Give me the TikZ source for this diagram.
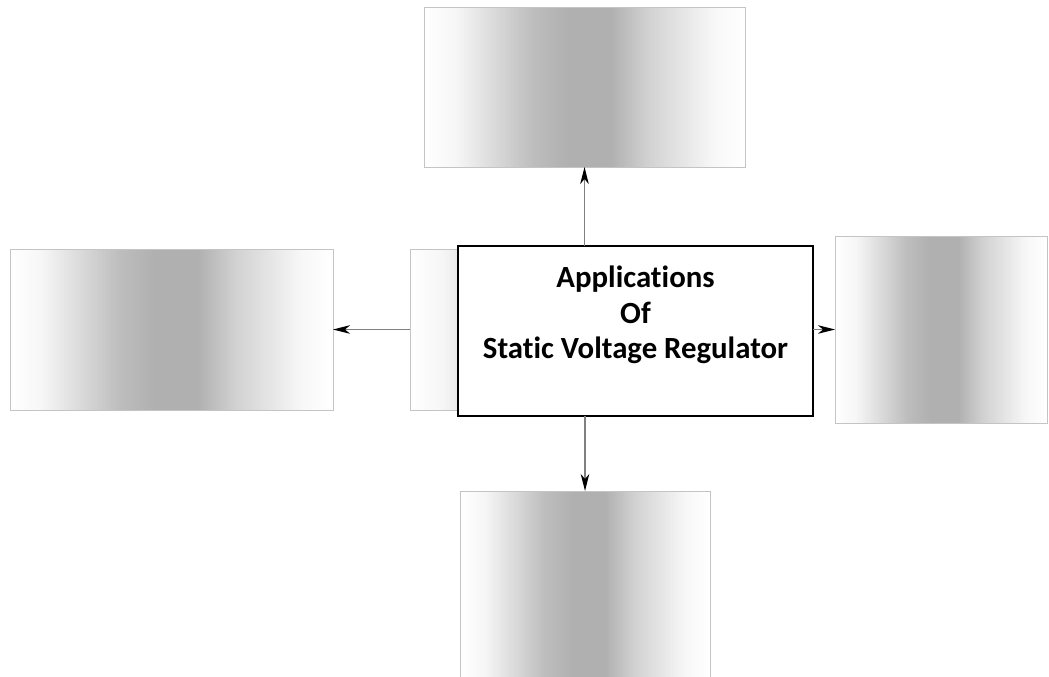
\documentclass[tikz,border=0pt]{standalone}
\usepackage{fontspec}
\setmainfont[Ligatures=NoCommon]{Carlito}
\usetikzlibrary{arrows.meta}
\definecolor{boxgray}{HTML}{B0B0B0}
\definecolor{edgegray}{HTML}{C4C4C4}
\definecolor{linegray}{HTML}{808080}
\definecolor{gA}{HTML}{F6F6F6}
\definecolor{gB}{HTML}{BDBDBD}
\definecolor{gC}{HTML}{D2D2D2}
\definecolor{gD}{HTML}{F7F7F7}
\pgfdeclarehorizontalshading{boxshade}{100bp}{color(0bp)=(white); color(25bp)=(white); color(30bp)=(gA); color(42bp)=(gB); color(47.5bp)=(boxgray); color(54bp)=(boxgray); color(60bp)=(gC); color(70bp)=(gD); color(75bp)=(white); color(100bp)=(white)}
\tikzset{
  grad/.style={draw=edgegray, line width=1pt, shading=boxshade, inner sep=0pt, outer sep=0pt},
  mainbox/.style={draw=black, line width=1.8pt, fill=white, inner sep=0pt, outer sep=0pt, align=center, font=\bfseries\fontsize{30.8}{35.5}\selectfont, text depth=37pt},
  conn/.style={draw=linegray, line width=1.3pt, -{Stealth[length=17pt,width=8.5pt,inset=5pt,black]}}
}
\begin{document}
\begin{tikzpicture}[x=1pt,y=-1pt]
\useasboundingbox (0,0) rectangle (1049,677);
\clip (0,0) rectangle (1049,677);
\node[grad, minimum width=321pt, minimum height=159pt] (top) at (584.5,87.5) {};
\node[grad, minimum width=323pt, minimum height=161pt] (left) at (171.5,329.5) {};
\node[grad, minimum width=212pt, minimum height=187pt] (right) at (941,329.5) {};
\node[grad, minimum width=250pt, minimum height=200pt] (bottom) at (585,591) {};
\node[grad, minimum width=320pt, minimum height=161pt] (back) at (570,329.5) {};
\node[mainbox, minimum width=355pt, minimum height=170pt] (main) at (635.5,331) {Applications\\Of\\Static Voltage Regulator};
\draw[conn] (top.south |- main.north) -- (top.south);
\draw[conn] (back.west) -- (left.east);
\draw[conn] (main.east |- right.west) -- (right.west);
\draw[conn] (bottom.north |- main.south) -- (bottom.north);
\end{tikzpicture}
\end{document}
